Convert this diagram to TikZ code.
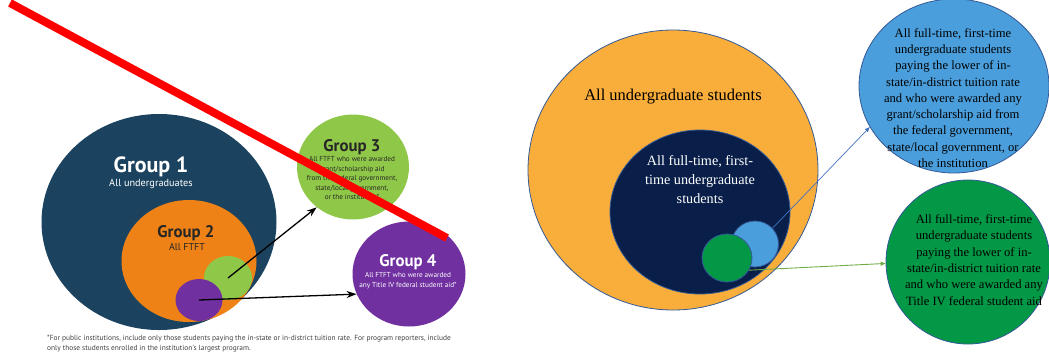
\documentclass[tikz,border=0pt]{standalone}
\usepackage{fontspec}
\setmainfont{Liberation Serif}
\newfontfamily\grpfont{PT Sans}
\usetikzlibrary{shapes.geometric,arrows.meta}
\definecolor{grpteal}{RGB}{27,67,95}
\definecolor{grporange}{RGB}{238,130,22}
\definecolor{grplime}{RGB}{143,200,72}
\definecolor{grpviolet}{RGB}{112,48,160}
\definecolor{ugorange}{RGB}{249,173,59}
\definecolor{ftnavy}{RGB}{9,31,73}
\definecolor{aidblue}{RGB}{74,158,220}
\definecolor{aidgreen}{RGB}{2,152,70}
\definecolor{edgeblue}{RGB}{52,90,150}
\definecolor{arrblue}{RGB}{68,114,196}
\definecolor{arrgreen}{RGB}{112,173,71}
\begin{document}
\begin{tikzpicture}[x=1pt,y=-1pt,
    blob/.style={ellipse,inner sep=0pt},
    ringed/.style={blob,draw=edgeblue,line width=0.8pt},
    grptitle/.style={font=\grpfont\bfseries\fontsize{16.8}{19}\selectfont},
    grpnote/.style={font=\grpfont\fontsize{7.2}{9.5}\selectfont,align=center},
    serifnote/.style={font=\fontsize{12.6}{16.3}\selectfont,align=center,inner sep=0pt}]
  \useasboundingbox (0,0) rectangle (1049,360);

  % left: the original figure
  \node[blob,fill=grpteal,minimum width=235pt,minimum height=216pt] (g1) at (159,222) {};
  \node[blob,fill=grporange,minimum width=135pt,minimum height=122pt] (g2) at (189,261) {};
  \node[blob,fill=grplime,minimum width=48pt,minimum height=44pt] (s3) at (228,278) {};
  \node[blob,fill=grpviolet,minimum width=47pt,minimum height=42pt] (s4) at (199,300) {};
  \node[blob,fill=grplime,minimum width=112pt,minimum height=105pt] (g3) at (353,167) {};
  \node[blob,fill=grpviolet,minimum width=113pt,minimum height=105pt] (g4) at (409,274) {};

  \node[grptitle,text=white,font=\grpfont\bfseries\fontsize{22}{24}\selectfont] (t1) at (151,167) {Group 1};
  \node[grpnote,text=white,font=\grpfont\fontsize{10.3}{12}\selectfont] (n1) at (151,184) {All undergraduates};
  \node[grptitle,text=black!85] (t2) at (186,233) {Group 2};
  \node[grpnote,text=black!85,font=\grpfont\fontsize{10}{12}\selectfont] (n2) at (187,247) {All FTFT};
  \node[grptitle,text=black!85] (t3) at (352,147) {Group 3};
  \node[grpnote,text=black!85,anchor=north] (n3) at (352,153)
    {All FTFT who were awarded\\grant/scholarship aid\\from the federal government,\\state/local government,\\or the institution*};
  \node[grptitle,text=white] (t4) at (408,262) {Group 4};
  \node[grpnote,text=white,anchor=north] (n4) at (408,269)
    {All FTFT who were awarded\\any Title IV federal student aid*};

  \draw[-{Stealth[length=10pt,width=7pt]},line width=1.3pt] (s3.center) -- (g3.228);
  \draw[-{Stealth[length=10pt,width=7pt]},line width=1.3pt] (s4.center) -- (g4.201);

  \node[font=\grpfont\fontsize{7.4}{9.5}\selectfont,text=black!75,align=left,anchor=north west,inner sep=0pt] (foot) at (47,335)
    {*For public institutions, include only those students paying the in-state or in-district tuition rate. For program reporters, include\\only those students enrolled in the institution's largest program.};

  % strike-out over the original figure
  \coordinate (cut1) at (10,3);
  \coordinate (cut2) at (447,238);
  \draw[red,line width=8pt] (cut1) -- (cut2);

  % right: the redrawn figure
  \node[ringed,fill=ugorange,minimum width=290pt,minimum height=280pt] (ug) at (673,170) {};
  \node[ringed,fill=ftnavy,minimum width=180pt,minimum height=164pt] (ft) at (700,212) {};
  \node[ringed,fill=aidblue,minimum width=47pt,minimum height=46pt] (sb) at (755,244) {};
  \node[ringed,fill=aidgreen,minimum width=50pt,minimum height=48pt] (sg) at (727,258) {};
  \node[ringed,fill=aidblue,minimum width=190pt,minimum height=174pt] (bb) at (954,86) {};
  \node[ringed,fill=aidgreen,minimum width=164pt,minimum height=164pt] (bg) at (968,262) {};

  \node[font=\fontsize{16.5}{19}\selectfont] (ugtext) at (673,97) {All undergraduate students};
  \node[font=\fontsize{14.2}{19}\selectfont,text=white,align=center] (fttext) at (700,180)
    {All full-time, first-\\time undergraduate\\students};
  \node[serifnote] (bbtext) at (953,98)
    {All full-time, first-time\\undergraduate students\\paying the lower of in-\\state/in-district tuition rate\\and who were awarded any\\grant/scholarship aid from\\the federal government,\\state/local government, or\\the institution};
  \node[serifnote] (bgtext) at (974,260)
    {All full-time, first-time\\undergraduate students\\paying the lower of in-\\state/in-district tuition rate\\and who were awarded any\\Title IV federal student aid};

  \draw[-{Triangle[length=5pt,width=4pt]},arrblue,line width=0.7pt] (sb.42) -- (bb.206);
  \draw[-{Triangle[length=5pt,width=4pt]},arrgreen,line width=0.9pt] (sg.331) -- (bg.181);
\end{tikzpicture}
\end{document}
